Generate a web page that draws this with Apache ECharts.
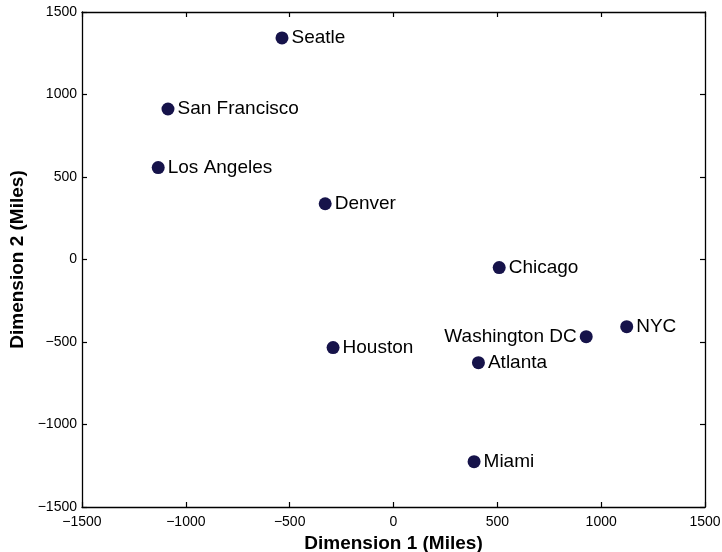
<!DOCTYPE html>
<html>
<head>
<meta charset="utf-8">
<script src="https://cdn.jsdelivr.net/npm/echarts@6/dist/echarts.min.js"></script>
<style>
  html, body { margin: 0; padding: 0; background: #fff; }
  #chart { width: 722px; height: 552px; }
</style>
</head>
<body>
<div id="chart"></div>
<script>
// City positions from multidimensional scaling of inter-city distances
const cities = ['Seatle', 'San Francisco', 'Los Angeles', 'Denver', 'Chicago',
                'NYC', 'Washington DC', 'Atlanta', 'Houston', 'Miami'];
const dim1 = [-537, -1086, -1133, -329, 509, 1123, 928, 409, -291, 388];
const dim2 = [1343, 912, 557, 338, -49, -407, -468, -625, -534, -1225];
// Labels placed to the left of the point
const leftLabeled = ['Washington DC'];

const axisMin = -1500, axisMax = 1500, axisStep = 500;

const fontFamily = '"Liberation Sans", Arial, Helvetica, sans-serif';
const minusFmt = v => String(v).replace('-', '\u2212');

const points = cities.map((name, i) => ({
  name: name,
  value: [dim1[i], dim2[i]],
  label: { position: leftLabeled.includes(name) ? 'left' : 'right' }
}));

const baseAxis = {
  min: axisMin, max: axisMax, interval: axisStep,
  axisLine: { show: true, onZero: false, lineStyle: { color: '#000', width: 1.3 } },
  axisTick: { show: true, inside: true, length: 5, lineStyle: { color: '#000', width: 1.2 } },
  splitLine: { show: false }
};

const chart = echarts.init(document.getElementById('chart'));
chart.setOption({
  animation: false,
  backgroundColor: '#fff',
  grid: { left: 82, right: 17, top: 12, bottom: 45, containLabel: false, outerBoundsMode: 'none' },
  xAxis: [
    Object.assign({}, baseAxis, {
      type: 'value', position: 'bottom',
      name: 'Dimension 1 (Miles)', nameLocation: 'middle', nameGap: 25,
      nameTextStyle: { fontFamily, fontSize: 19, fontWeight: 'bold', color: '#000' },
      axisLabel: { formatter: minusFmt, fontFamily, fontSize: 14, color: '#000', margin: 8 }
    }),
    Object.assign({}, baseAxis, {
      type: 'value', position: 'top', axisLabel: { show: false }
    })
  ],
  yAxis: [
    Object.assign({}, baseAxis, {
      type: 'value', position: 'left',
      name: 'Dimension 2 (Miles)', nameLocation: 'middle', nameGap: 49,
      nameTextStyle: { fontFamily, fontSize: 19, fontWeight: 'bold', color: '#000' },
      axisLabel: { formatter: minusFmt, fontFamily, fontSize: 14, color: '#000', margin: 5 }
    }),
    Object.assign({}, baseAxis, {
      type: 'value', position: 'right', axisLabel: { show: false }
    })
  ],
  series: [{
    type: 'scatter',
    xAxisIndex: 0, yAxisIndex: 0,
    symbol: 'circle', symbolSize: 13,
    itemStyle: { color: '#16134a', opacity: 1 },
    label: {
      show: true, formatter: '{b}', distance: 3,
      fontFamily, fontSize: 19, color: '#000'
    },
    data: points
  }]
});
</script>
</body>
</html>
